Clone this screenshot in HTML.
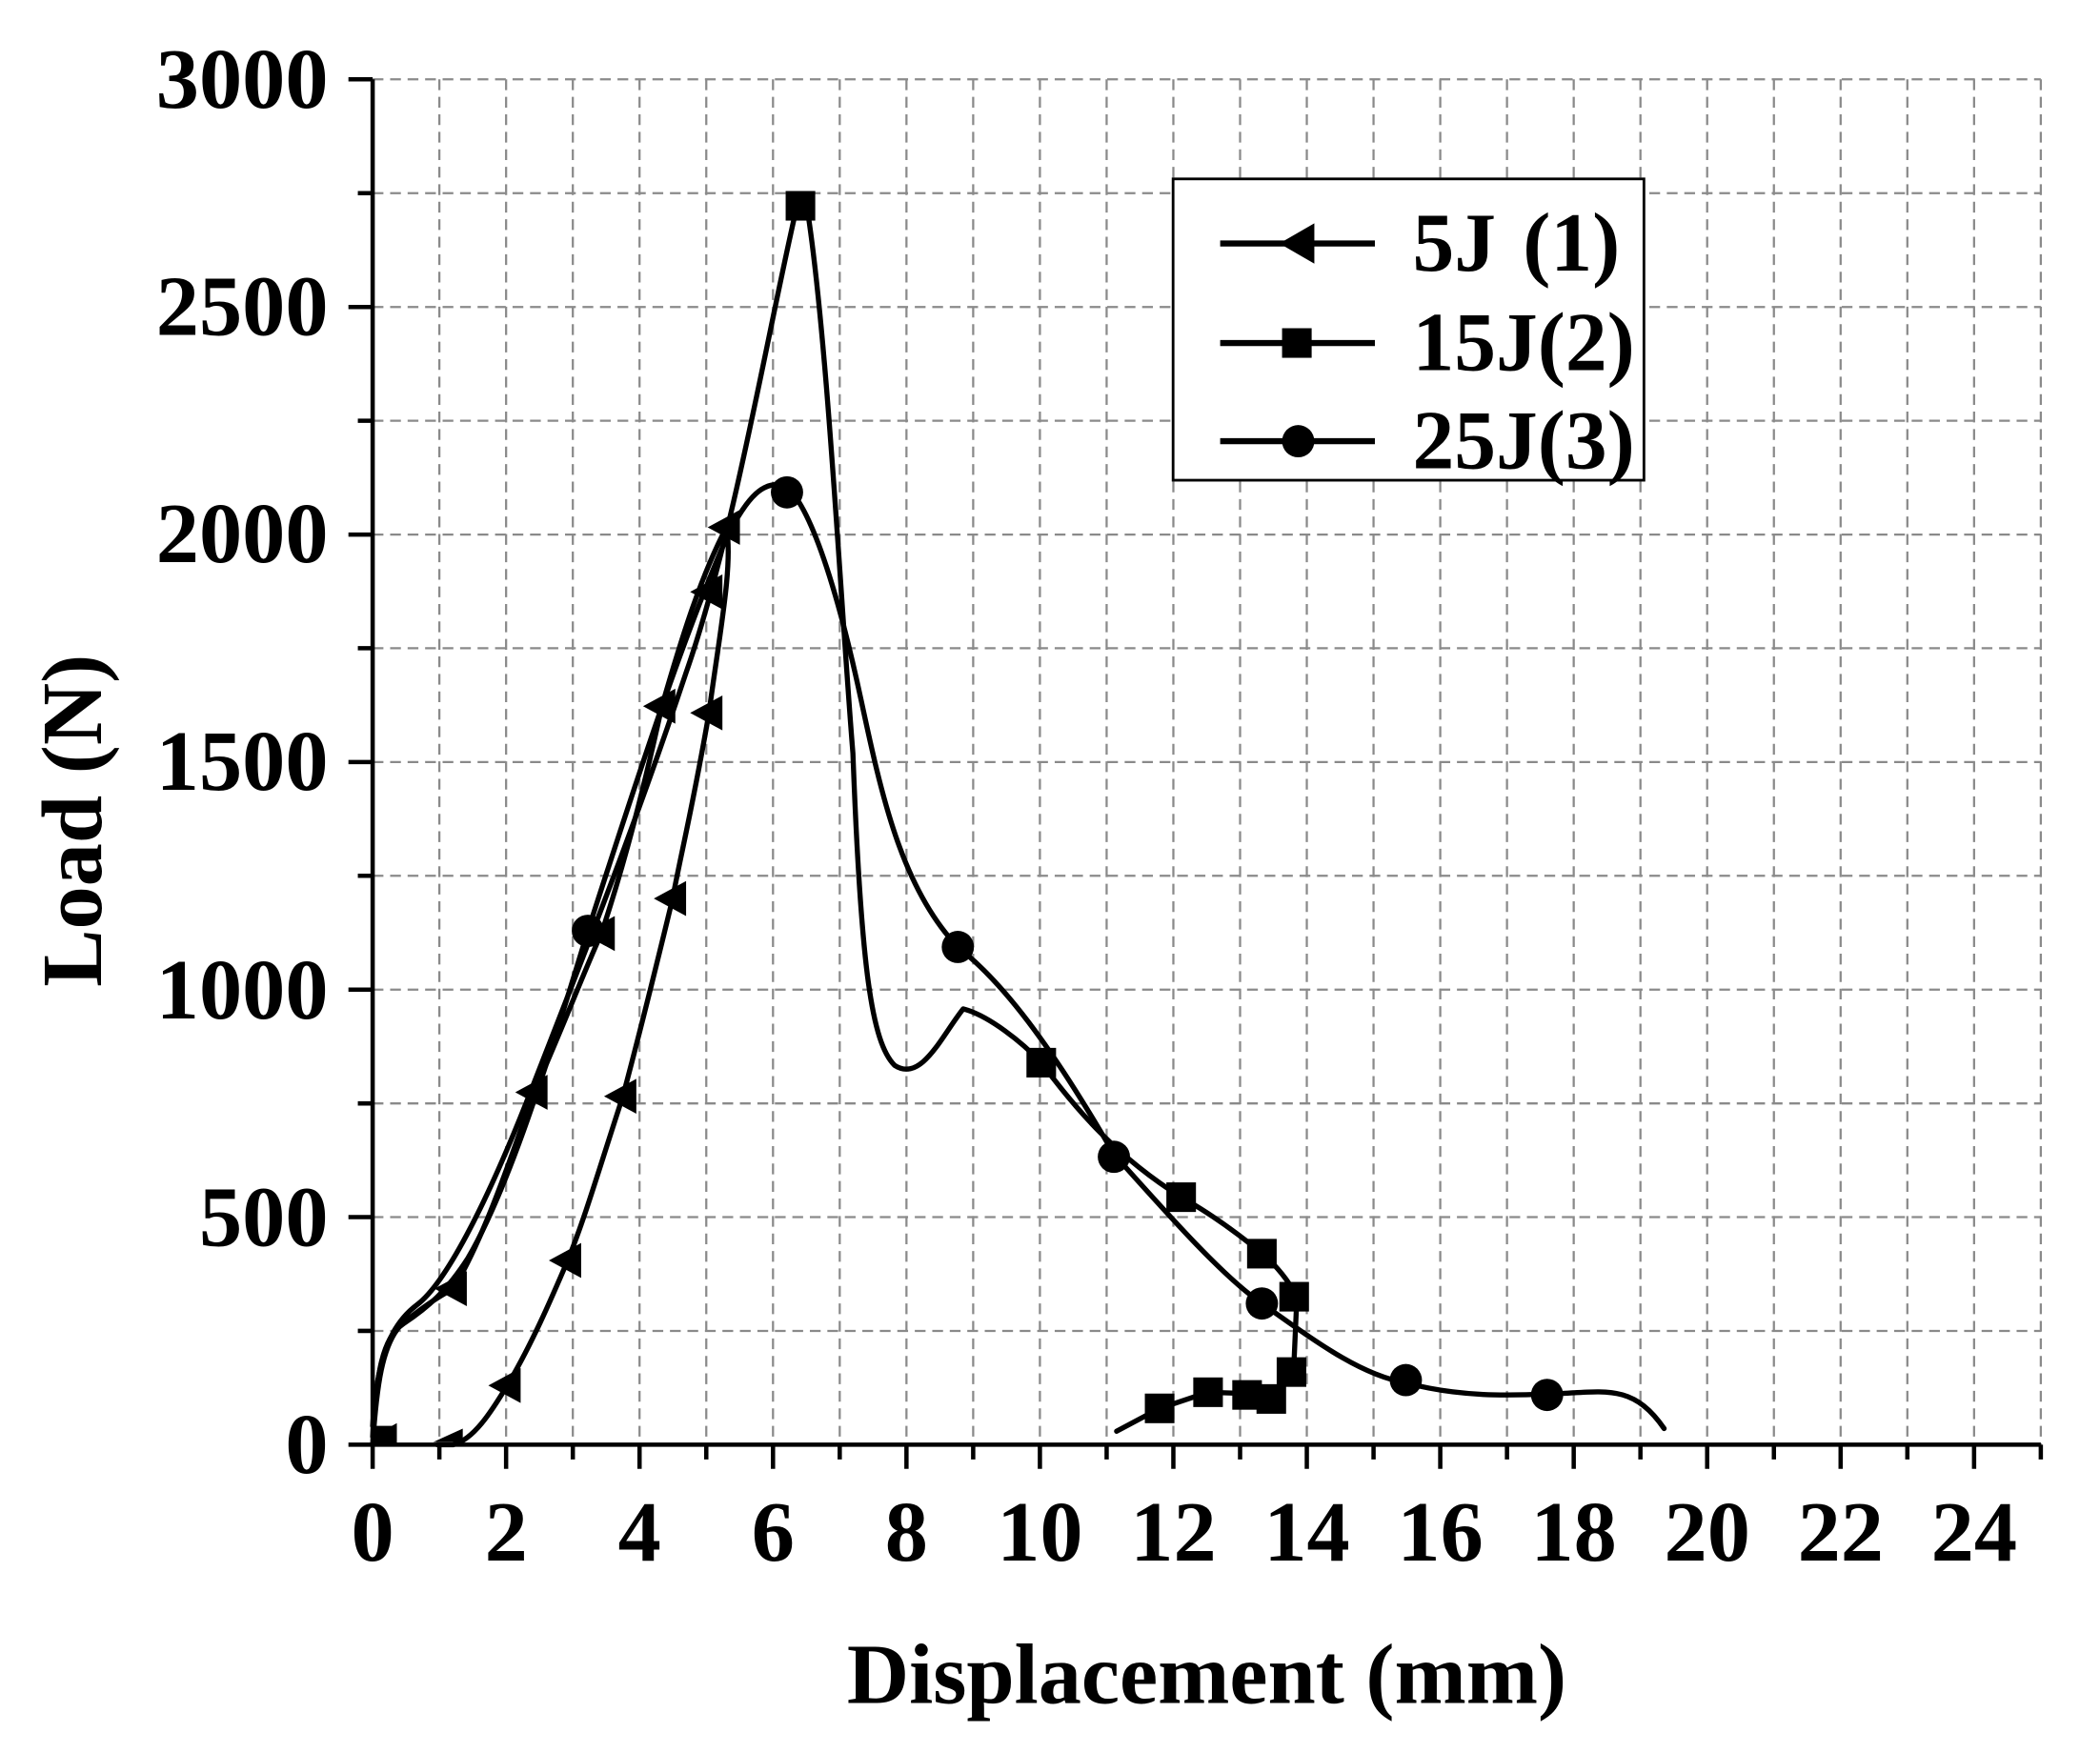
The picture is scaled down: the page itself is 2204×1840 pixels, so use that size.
<!DOCTYPE html>
<html><head><meta charset="utf-8"><style>
html,body{margin:0;padding:0;background:#fff;}
svg{display:block;}
text{font-family:"Liberation Serif",serif;font-weight:bold;fill:#000;}
</style></head><body>
<svg width="2204" height="1840" viewBox="0 0 1561 1303.2" preserveAspectRatio="none" xmlns="http://www.w3.org/2000/svg">
<rect x="0" y="0" width="1561" height="1304" fill="#fff"/>
<g stroke="#8a8a8a" stroke-width="1.6" stroke-dasharray="8,5" fill="none">
<path d="M326.6 59V1074M376.2 59V1074M425.8 59V1074M475.4 59V1074M525 59V1074M574.6 59V1074M624.2 59V1074M673.8 59V1074M723.4 59V1074M773 59V1074M822.6 59V1074M872.2 59V1074M921.8 59V1074M971.4 59V1074M1021 59V1074M1070.6 59V1074M1120.2 59V1074M1169.8 59V1074M1219.4 59V1074M1269 59V1074M1318.6 59V1074M1368.2 59V1074M1417.8 59V1074M1467.4 59V1074M1517 59V1074"/>
<path d="M277 989.4H1517M277 904.8H1517M277 820.3H1517M277 735.7H1517M277 651.1H1517M277 566.5H1517M277 481.9H1517M277 397.4H1517M277 312.8H1517M277 228.2H1517M277 143.6H1517M277 59H1517"/>
</g>
<g stroke="#000" stroke-width="3.2" fill="none">
<path d="M277 59V1074H1517"/>
<path d="M259 59H277M259 228.2H277M259 397.4H277M259 566.5H277M259 735.7H277M259 904.8H277M259 1074H277M266 143.6H277M266 312.8H277M266 481.9H277M266 651.1H277M266 820.3H277M266 989.4H277"/>
<path d="M277 1074V1092M376.2 1074V1092M475.4 1074V1092M574.6 1074V1092M673.8 1074V1092M773 1074V1092M872.2 1074V1092M971.4 1074V1092M1070.6 1074V1092M1169.8 1074V1092M1269 1074V1092M1368.2 1074V1092M1467.4 1074V1092"/>
<path d="M326.6 1074V1085M425.8 1074V1085M525 1074V1085M624.2 1074V1085M723.4 1074V1085M822.6 1074V1085M921.8 1074V1085M1021 1074V1085M1120.2 1074V1085M1219.4 1074V1085M1318.6 1074V1085M1417.8 1074V1085M1517 1074V1085"/>
</g>
<g font-size="64" text-anchor="end">
<text x="244" y="80">3000</text><text x="244" y="249">2500</text><text x="244" y="418">2000</text>
<text x="244" y="587">1500</text><text x="244" y="757">1000</text><text x="244" y="926">500</text><text x="244" y="1095">0</text>
</g>
<g font-size="64" text-anchor="middle">
<text x="277" y="1160">0</text><text x="376.2" y="1160">2</text><text x="475.4" y="1160">4</text><text x="574.6" y="1160">6</text>
<text x="673.8" y="1160">8</text><text x="773" y="1160">10</text><text x="872.2" y="1160">12</text><text x="971.4" y="1160">14</text>
<text x="1070.6" y="1160">16</text><text x="1169.8" y="1160">18</text><text x="1269" y="1160">20</text><text x="1368.2" y="1160">22</text><text x="1467.4" y="1160">24</text>
</g>
<text x="897" y="1266" font-size="64" text-anchor="middle">Displacement (mm)</text>
<text transform="translate(75,610) rotate(-90)" font-size="64" text-anchor="middle">Load (N)</text>

<g stroke="#000" stroke-width="3.8" fill="none" stroke-linejoin="round" stroke-linecap="round">
<path d="M277 1068 C280 1020 284 995 300 984 C318 972 332 960 348 935 C380 880 410 780 437 692 C470 590 505 480 540 400 C555 370 568 355 585 362 C605 380 625 450 640 520 C655 590 670 660 712 704 C745 730 780 775 828 858 C870 905 910 950 938 969 C975 995 1010 1022 1045 1028 C1090 1040 1130 1037 1160 1036 C1195 1034 1215 1030 1237 1062"/>
<path d="M277 1060 C280 1010 290 985 310 970 C330 955 360 900 395 810 C430 720 470 620 510 500 C545 400 570 250 592 155 L600 155 C615 250 625 450 634 560 C640 720 648 775 665 792 C685 805 700 770 716 750 C735 755 760 775 774 790 C800 825 830 860 878 890 C905 905 930 925 942 935 C952 945 960 955 964 965 L962 1010 C958 1025 950 1035 945 1040 L927 1036 L898 1035 L862 1047 L830 1064"/>
<path d="M277 1074 C280 1030 284 1000 298 985 C310 975 322 966 337 958 C360 920 380 860 397 812 C420 760 435 720 447 694 C465 640 480 580 492 525 C505 480 520 430 540 392 C545 420 535 470 527 530 C515 600 505 640 500 668 C485 730 475 770 463 815 C445 870 435 905 422 937 C410 965 395 1000 377 1030 C365 1050 352 1070 337 1074 L325 1074"/>
</g>
<g fill="#000">
<circle cx="437" cy="692" r="12"/><circle cx="585" cy="366" r="12"/><circle cx="712" cy="704" r="12"/>
<circle cx="828" cy="860" r="12"/><circle cx="938" cy="969" r="12"/><circle cx="1045" cy="1026" r="12"/><circle cx="1150" cy="1037" r="12"/>
<rect x="584" y="142" width="22" height="22"/><rect x="763" y="779" width="22" height="22"/><rect x="867" y="879" width="22" height="22"/>
<rect x="927" y="921" width="22" height="22"/><rect x="951" y="953" width="22" height="22"/><rect x="949" y="1009" width="22" height="22"/>
<rect x="934" y="1029" width="22" height="22"/><rect x="916" y="1026" width="22" height="22"/><rect x="887" y="1024" width="22" height="22"/>
<rect x="851" y="1036" width="22" height="22"/><rect x="277" y="1060" width="18" height="14"/>
<path d="M323 958 l24 -13 v26z"/><path d="M383 812 l24 -13 v26z"/><path d="M433 694 l24 -13 v26z"/>
<path d="M478 525 l24 -13 v26z"/><path d="M526 392 l24 -13 v26z"/><path d="M513 440 l24 -13 v26z"/>
<path d="M513 530 l24 -13 v26z"/><path d="M486 668 l24 -13 v26z"/><path d="M449 815 l24 -13 v26z"/>
<path d="M408 937 l24 -13 v26z"/><path d="M363 1030 l24 -13 v26z"/><path d="M322 1072 l22 -10 v10z"/><path d="M277 1068 l18 -10 v16z"/>
</g>
<rect x="872" y="133" width="350" height="224" fill="#fff" stroke="#000" stroke-width="2"/>
<g stroke="#000" stroke-width="4.5"><path d="M907 181H1022M907 255H1022M907 328H1022"/></g>
<path d="M951 181 l26 -15 v30z" fill="#000"/>
<rect x="953" y="244" width="22" height="22" fill="#000"/>
<circle cx="965" cy="328" r="12" fill="#000"/>
<g font-size="62"><text x="1050" y="201">5J</text><text x="1132" y="201">(1)</text><text x="1050" y="275">15J(2)</text><text x="1050" y="348">25J(3)</text></g>
</svg>
</body></html>
